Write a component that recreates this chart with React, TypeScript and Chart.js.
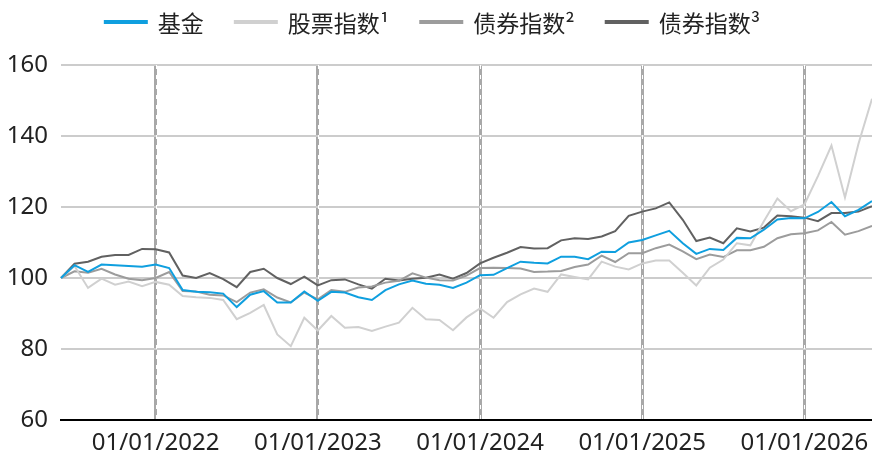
import React, { useEffect, useRef } from 'react';
import { Chart, registerables } from 'chart.js';

Chart.register(...registerables);

// Monthly observation dates, 01/06/2021 .. 01/06/2026
const monthLabels: string[] = (() => {
  const out: string[] = [];
  for (let k = 0; k < 61; k++) {
    const m = (5 + k) % 12;
    const y = 2021 + Math.floor((5 + k) / 12);
    out.push(`01/${String(m + 1).padStart(2, '0')}/${y}`);
  }
  return out;
})();

const seriesNames = ['基金', '股票指数¹', '债券指数²', '债券指数³'];

const fundValues = [
  100, 103.6, 101.7, 103.8, 103.6, 103.4, 103.2, 103.8, 102.8, 96.6,
  96.1, 96.0, 95.6, 91.8, 95.3, 96.3, 93.1, 93.1, 96.2, 93.6,
  96.1, 95.9, 94.6, 93.8, 96.6, 98.2, 99.3, 98.4, 98.1, 97.2,
  98.7, 100.8, 100.9, 102.8, 104.6, 104.3, 104.1, 106.0, 106.0, 105.3,
  107.4, 107.3, 110.0, 110.7, 112.0, 113.3, 109.8, 106.8, 108.2, 107.9,
  111.3, 111.2, 113.6, 116.5, 116.9, 116.8, 118.6, 121.4, 117.4, 119.2,
  121.7,
];

const equityValues = [
  100, 103.4, 97.2, 99.8, 98.1, 99.0, 97.7, 98.9, 98.1, 94.9,
  94.6, 94.4, 93.8, 88.4, 90.2, 92.4, 84.1, 80.8, 88.8, 85.2,
  89.3, 86.0, 86.2, 85.1, 86.3, 87.4, 91.6, 88.4, 88.2, 85.3,
  88.9, 91.4, 88.8, 93.2, 95.4, 97.0, 96.1, 101.0, 100.3, 99.6,
  104.6, 103.2, 102.4, 104.1, 104.9, 104.9, 101.5, 97.9, 102.9, 105.2,
  109.8, 109.2, 116.0, 122.4, 118.8, 120.7, 128.7, 137.3, 122.7, 137.8,
  150.5,
];

const bond2Values = [
  100, 101.9, 101.5, 102.6, 101.0, 99.8, 99.4, 100.0, 101.7, 96.3,
  96.2, 95.3, 95.1, 93.2, 95.9, 96.8, 94.5, 93.1, 95.9, 94.0,
  96.6, 96.1, 97.3, 97.6, 98.7, 99.2, 101.3, 100.1, 99.4, 99.3,
  100.7, 102.8, 102.9, 102.8, 102.7, 101.7, 101.8, 102.0, 103.1, 103.8,
  106.3, 104.5, 107.0, 107.0, 108.4, 109.4, 107.5, 105.3, 106.6, 105.9,
  107.8, 107.8, 108.8, 111.2, 112.3, 112.6, 113.4, 115.8, 112.2, 113.2,
  114.7,
];

const bond3Values = [
  100, 104.0, 104.6, 106.0, 106.5, 106.5, 108.2, 108.1, 107.2, 100.7,
  100.0, 101.4, 99.7, 97.4, 101.7, 102.6, 100.0, 98.3, 100.4, 97.9,
  99.4, 99.6, 98.2, 97.0, 99.8, 99.3, 99.8, 100.1, 101.0, 99.8,
  101.4, 104.1, 105.7, 107.1, 108.7, 108.3, 108.4, 110.6, 111.2, 111.0,
  111.7, 113.2, 117.5, 118.7, 119.6, 121.3, 116.4, 110.4, 111.4, 109.8,
  114.0, 113.1, 114.2, 117.6, 117.4, 117.0, 116.0, 118.3, 118.3, 118.7,
  120.2,
];

const yMin = 60;
const yMax = 160;
const yStep = 20;

const seriesColors = ['#0f9fdf', '#d0d0d0', '#9c9c9c', '#616161'];

const isYearStart = (i: number) => !!monthLabels[i] && monthLabels[i].startsWith('01/01/');

const yearLinePlugin = {
  id: 'yearLineDashes',
  beforeDatasetsDraw(chart: any) {
    const { ctx, chartArea, scales } = chart;
    const xs = scales.x;
    ctx.save();
    ctx.strokeStyle = '#ffffff';
    ctx.lineWidth = 1;
    ctx.setLineDash([4, 6]);
    monthLabels.forEach((_, i) => {
      if (!isYearStart(i)) return;
      const x = Math.round(xs.getPixelForTick(i)) + 0.5;
      ctx.beginPath();
      ctx.moveTo(x, chartArea.top);
      ctx.lineTo(x, chartArea.bottom);
      ctx.stroke();
    });
    ctx.restore();
  },
};

const legendPlugin = {
  id: 'lineLegend',
  afterDraw(chart: any) {
    const { ctx } = chart;
    const font = '23px "Noto Sans CJK SC", "Noto Sans", sans-serif';
    const swatchW = 44;
    const swatchGap = 10;
    const itemGap = 30;
    const cy = 22;
    ctx.save();
    ctx.font = font;
    const items = chart.data.datasets.map((ds: any) => ({
      text: ds.label as string,
      color: ds.borderColor as string,
      w: ctx.measureText(ds.label).width,
    }));
    const total =
      items.reduce((s: number, it: any) => s + swatchW + swatchGap + it.w, 0) +
      itemGap * (items.length - 1);
    let x = 432 - total / 2;
    ctx.textBaseline = 'middle';
    ctx.textAlign = 'left';
    items.forEach((it: any) => {
      ctx.fillStyle = it.color;
      ctx.fillRect(x, cy - 2, swatchW, 4);
      ctx.fillStyle = '#222';
      ctx.fillText(it.text, x + swatchW + swatchGap, cy + 1);
      x += swatchW + swatchGap + it.w + itemGap;
    });
    ctx.restore();
  },
};

export default function App() {
  const canvasRef = useRef<HTMLCanvasElement | null>(null);

  useEffect(() => {
    if (!canvasRef.current) return;
    const values = [fundValues, equityValues, bond2Values, bond3Values];
    const chart = new Chart(canvasRef.current, {
      type: 'line',
      data: {
        labels: monthLabels,
        datasets: seriesNames.map((name, k) => ({
          label: name,
          data: values[k],
          borderColor: seriesColors[k],
          backgroundColor: seriesColors[k],
          borderWidth: 2,
          pointRadius: 0,
          tension: 0,
          fill: false,
        })),
      },
      options: {
        animation: false,
        responsive: true,
        maintainAspectRatio: false,
        layout: { padding: { top: 65, left: 0, right: 0, bottom: 0 } },
        plugins: {
          legend: { display: false },
          tooltip: { enabled: false },
        },
        scales: {
          x: {
            type: 'category',
            offset: false,
            afterFit(scale: any) {
              scale.height = 39;
              scale.paddingLeft = 0;
              scale.paddingRight = 0;
            },
            grid: {
              display: true,
              drawTicks: false,
              lineWidth: 3,
              color: (c: any) => (isYearStart(c.index) ? '#a8a8a8' : 'rgba(0,0,0,0)'),
            },
            border: { display: true, color: '#000', width: 2 },
            ticks: {
              autoSkip: false,
              maxRotation: 0,
              minRotation: 0,
              padding: 9,
              color: '#222',
              font: { family: '"Noto Sans", sans-serif', size: 24 },
              callback: (_v: any, i: number) => (isYearStart(i) ? monthLabels[i] : ''),
            },
          },
          y: {
            min: yMin,
            max: yMax,
            afterFit(scale: any) {
              scale.width = 61;
            },
            grid: {
              drawTicks: false,
              lineWidth: 2,
              color: (c: any) => (c.tick && c.tick.value === yMin ? '#000' : '#cccccc'),
            },
            border: { display: false },
            ticks: {
              stepSize: yStep,
              padding: 13,
              color: '#222',
              font: { family: '"Noto Sans", sans-serif', size: 24 },
            },
          },
        },
      },
      plugins: [yearLinePlugin, legendPlugin],
    });
    return () => chart.destroy();
  }, []);

  return (
    <div style={{ position: 'fixed', left: 0, top: 0, width: 872, height: 459, background: '#fff' }}>
      <canvas ref={canvasRef} />
    </div>
  );
}
